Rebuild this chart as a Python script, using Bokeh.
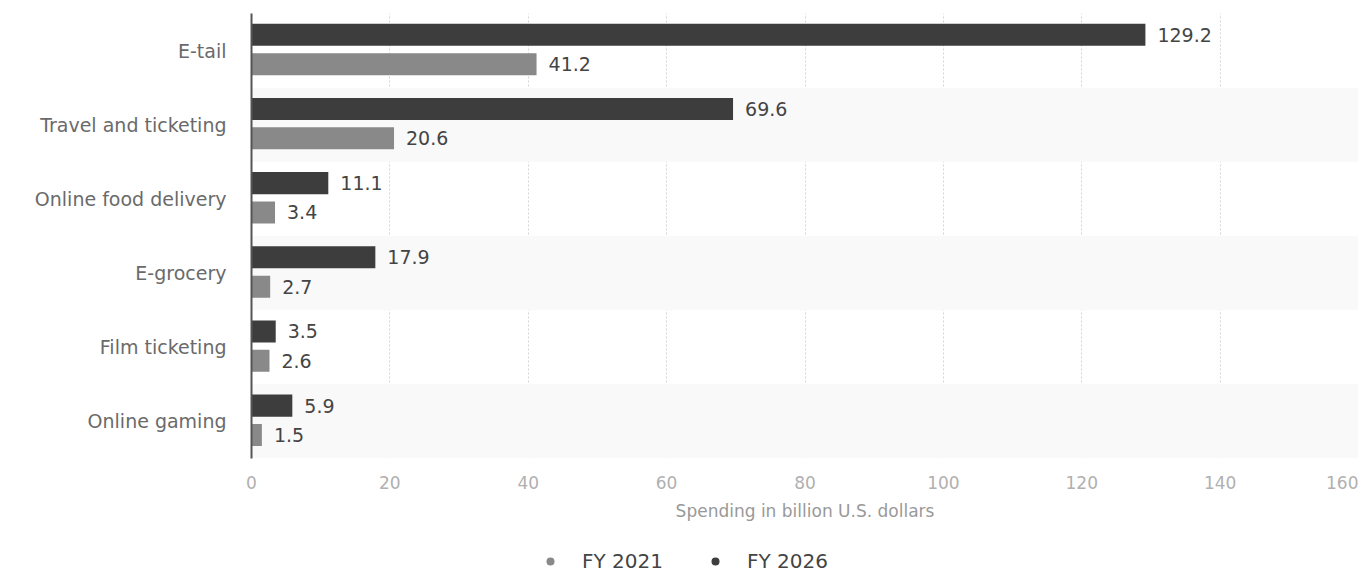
from bokeh.plotting import figure
from bokeh.layouts import column
from bokeh.models import ColumnDataSource, FactorRange, Range1d, Legend, LegendItem, FixedTicker
from bokeh.transform import dodge
from bokeh.core.properties import value
from bokeh.embed import file_html
from bokeh.resources import INLINE

categories = ["E-tail", "Travel and ticketing", "Online food delivery",
              "E-grocery", "Film ticketing", "Online gaming"]
fy2021 = [41.2, 20.6, 3.4, 2.7, 2.6, 1.5]
fy2026 = [129.2, 69.6, 11.1, 17.9, 3.5, 5.9]
x_ticks = [0, 20, 40, 60, 80, 100, 120, 140, 160]
series_names = ["FY 2021", "FY 2026"]

FONT = "DejaVu Sans"
DARK = "#3d3d3d"
GRAY = "#898989"
OFF26 = 0.213
OFF21 = -0.183

src = ColumnDataSource(dict(
    cat=categories,
    v21=fy2021,
    v26=fy2026,
    l21=[str(v) for v in fy2021],
    l26=[str(v) for v in fy2026],
))

p = figure(frame_width=1107, frame_height=445, output_backend="svg", toolbar_location=None,
           y_range=FactorRange(factors=list(reversed(categories))),
           x_range=Range1d(0, 160),
           min_border_left=251, min_border_right=0, min_border_top=13,
           min_border_bottom=75)
p.outline_line_color = None
p.background_fill_color = "white"

# alternating bands
band_src = ColumnDataSource(dict(cat=categories[1::2]))
p.hbar(y="cat", left=0, right=160, height=1.0, source=band_src,
       fill_color="#f9f9f9", line_color=None)

p.xgrid.ticker = FixedTicker(ticks=x_ticks)
p.xgrid.grid_line_color = "#d4d4d4"
p.xgrid.grid_line_dash = "2 2"
p.xgrid.grid_line_width = 1
p.ygrid.grid_line_color = None

p.hbar(y=dodge("cat", OFF26, range=p.y_range), left=0, right="v26", height=0.297,
       source=src, fill_color=DARK, line_color=None)
p.hbar(y=dodge("cat", OFF21, range=p.y_range), left=0, right="v21", height=0.297,
       source=src, fill_color=GRAY, line_color=None)

p.text(x="v26", y=dodge("cat", OFF26, range=p.y_range), text="l26", source=src,
       x_offset=12, text_baseline="middle", text_font=value(FONT),
       text_font_size="19px", text_color="#444444")
p.text(x="v21", y=dodge("cat", OFF21, range=p.y_range), text="l21", source=src,
       x_offset=12, text_baseline="middle", text_font=value(FONT),
       text_font_size="19px", text_color="#444444")

# axes
xa = p.xaxis[0]
xa.ticker = FixedTicker(ticks=x_ticks)
xa.axis_line_color = None
xa.major_tick_line_color = None
xa.minor_tick_line_color = None
xa.major_label_text_font = FONT
xa.major_label_text_font_size = "17px"
xa.major_label_text_color = "#b0b0b0"
xa.major_label_standoff = 11
xa.axis_label = "Spending in billion U.S. dollars"
xa.axis_label_text_font = FONT
xa.axis_label_text_font_size = "17px"
xa.axis_label_text_font_style = "normal"
xa.axis_label_text_color = "#999999"
xa.axis_label_standoff = 9

ya = p.yaxis[0]
ya.axis_line_color = "#555555"
ya.axis_line_width = 2
ya.major_tick_line_color = None
ya.minor_tick_line_color = None
ya.major_label_text_font = FONT
ya.major_label_text_font_size = "19px"
ya.major_label_text_color = "#6a6a6a"
ya.major_label_standoff = 19

# legend strip (separate small figure; its frame is aligned with the main frame)
lf = figure(width=1358, height=40, output_backend="svg", toolbar_location=None,
            x_range=Range1d(0, 1), y_range=Range1d(0, 1),
            x_axis_location=None, y_axis_location=None,
            min_border_left=251, min_border_right=0,
            min_border_top=0, min_border_bottom=0)
lf.outline_line_color = None
lf.grid.grid_line_color = None
lf.background_fill_color = "white"

# one hidden point (outside the ranges) per series so the legend draws its circle
hidden = ColumnDataSource(dict(x=[-1.0], y=[-1.0]))
r21 = lf.scatter(x="x", y="y", source=hidden, marker="circle", size=17,
                 fill_color=GRAY, line_color=None)
r26 = lf.scatter(x="x", y="y", source=hidden, marker="circle", size=17,
                 fill_color=DARK, line_color=None)
legend = Legend(items=[LegendItem(label=series_names[0], renderers=[r21]),
                       LegendItem(label=series_names[1], renderers=[r26])],
                orientation="horizontal", location=(289, 0),
                label_text_font=FONT, label_text_font_size="20px",
                label_text_color="#444444", border_line_color=None,
                background_fill_alpha=0, spacing=42, glyph_width=20,
                label_standoff=22, padding=0, margin=0)
lf.add_layout(legend, "center")

layout = column(p, lf, spacing=0)
open("out.html", "w").write(file_html(layout, INLINE))
